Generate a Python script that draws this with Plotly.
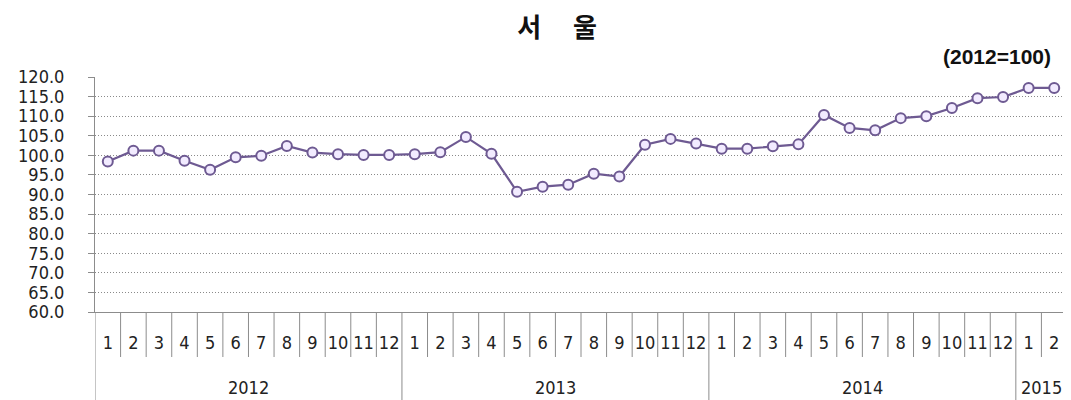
import plotly.graph_objects as go

# ---- data ----
years = ["2012"] * 12 + ["2013"] * 12 + ["2014"] * 12 + ["2015"] * 2
months = [str(m) for m in range(1, 13)] * 3 + ["1", "2"]
values = [98.4, 101.2, 101.2, 98.6, 96.3, 99.5, 99.9, 102.4, 100.7, 100.3, 100.1, 100.1,
          100.3, 100.8, 104.7, 100.4, 90.7, 92.0, 92.5, 95.3, 94.6, 102.7, 104.2, 103.0,
          101.7, 101.7, 102.3, 102.8, 110.3, 107.0, 106.4, 109.5, 110.0, 112.1, 114.6, 114.9,
          117.2, 117.2]
y_ticks = [60 + 5 * k for k in range(13)]

title_text = "서\u3000&nbsp;울"
base_text = "(2012=100)"

# ---- style ----
OFF = 8  # default page body margin
W, H = 1071 - OFF, 400 - OFF
L, R, T, B = 95 - OFF, 4, 77 - OFF, 88
plot_h = H - T - B
plot_w = W - L - R
LINE = "#6E5A92"
FILL = "#F2EBFF"
AXIS = "#8C8C8C"
FONT = "DejaVu Sans Condensed, Liberation Sans, sans-serif"

n = len(values)
xs = list(range(n))

fig = go.Figure()
fig.add_trace(go.Scatter(
    x=xs, y=values, mode="lines+markers",
    line=dict(color=LINE, width=2.2),
    marker=dict(symbol="circle", size=10, color=FILL, line=dict(color=LINE, width=2)),
    hoverinfo="skip", showlegend=False, cliponaxis=False,
))

def py(px):
    # pixel distance below x-axis -> paper y
    return -px / plot_h

shapes = []
for i in range(n + 1):
    xb = i - 0.5
    if i == 0 or i == n or years[i] != years[i - 1]:
        y1 = py(B)
    else:
        y1 = py(45)
    shapes.append(dict(type="line", xref="x", yref="paper", x0=xb, x1=xb, y0=0, y1=y1,
                       line=dict(color=AXIS, width=1)))

annotations = []
groups = []
for i, yv in enumerate(years):
    if not groups or groups[-1][0] != yv:
        groups.append([yv, i, i])
    else:
        groups[-1][2] = i
for yv, a, b in groups:
    annotations.append(dict(text=yv, xref="x", yref="paper", x=(a + b) / 2, y=py(75),
                            xanchor="center", yanchor="middle", showarrow=False,
                            font=dict(family=FONT, size=18, color="#222")))

annotations.append(dict(text=f"<b>{base_text}</b>", xref="paper", yref="paper",
                        x=(1053 - 95) / plot_w, y=1 + (77 - 56) / plot_h,
                        xanchor="right", yanchor="middle", showarrow=False,
                        font=dict(family="Liberation Sans, Arial, sans-serif", size=21, color="#111")))

fig.update_layout(
    width=W, height=H,
    margin=dict(l=L, r=R, t=T, b=B, pad=0, autoexpand=False),
    paper_bgcolor="white", plot_bgcolor="white",
    title=dict(text=f"<b>{title_text}</b>", x=(557 - OFF) / W, xanchor="center",
               y=1 - (28 - OFF) / H, yanchor="middle",
               font=dict(family="Noto Sans CJK KR, sans-serif", size=26, color="#111")),
    shapes=shapes, annotations=annotations,
    xaxis=dict(
        range=[-0.5, n - 0.5], tickmode="array", tickvals=xs, ticktext=months,
        ticks="outside", ticklen=14, tickcolor="rgba(0,0,0,0)",
        showgrid=False, zeroline=False, automargin=False,
        showline=True, linecolor=AXIS, linewidth=1,
        tickfont=dict(family=FONT, size=18, color="#222"),
        fixedrange=True,
    ),
    yaxis=dict(
        range=[60, 120], tickmode="array", tickvals=y_ticks,
        ticktext=[f"{v:.1f}" for v in y_ticks],
        ticks="outside", ticklen=6, tickcolor=AXIS, automargin=False,
        ticklabelstandoff=20,
        showgrid=True, gridcolor="#8A8A8A", gridwidth=1, griddash="1px,2px",
        zeroline=False, showline=True, linecolor=AXIS, linewidth=1,
        tickfont=dict(family=FONT, size=18, color="#222"),
        fixedrange=True,
    ),
)

fig.write_html("out.html")
